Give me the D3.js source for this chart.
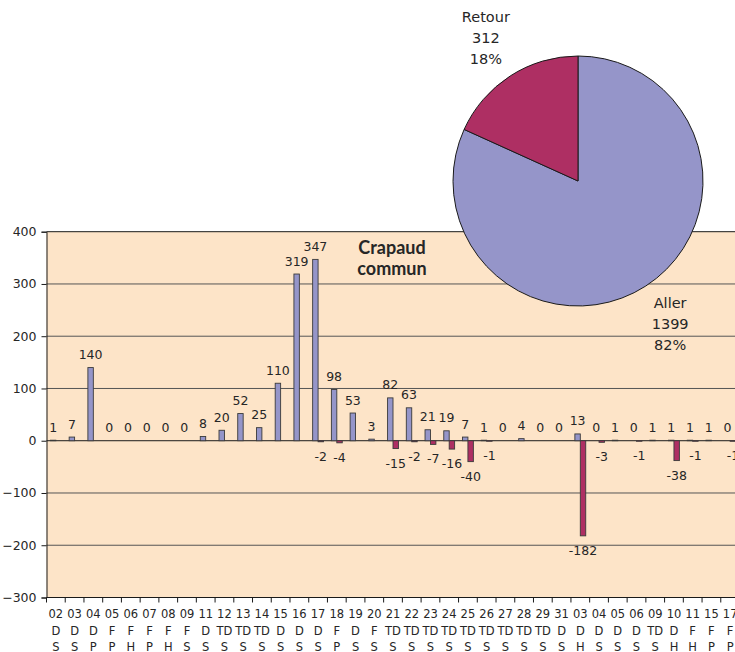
<!DOCTYPE html>
<html>
<head>
<meta charset="utf-8">
<script src="https://cdn.jsdelivr.net/npm/d3@7/dist/d3.min.js"></script>
<style>
  html, body { margin: 0; padding: 0; background: #fff; }
  svg { display: block; }
  text { font-family: "DejaVu Sans", Verdana, sans-serif; fill: #262626; }
</style>
</head>
<body>
<svg id="chart" width="735" height="652"></svg>
<script>
// Day of month for each counting night
const days   = ["02","03","04","05","06","07","08","09","11","12","13","14","15","16","17","18","19",
                "20","21","22","23","24","25","26","27","28","29","31","03","04","05","06","09","10","11","15","17"];
// Weather code (second label row)
const weather = ["D","D","D","F","F","F","F","F","D","TD","TD","TD","D","D","D","F","D",
                 "F","TD","TD","TD","TD","TD","TD","TD","TD","TD","D","D","D","D","D","TD","D","F","F","F"];
// Ground state code (third label row)
const ground  = ["S","S","P","P","H","P","H","S","S","S","S","S","S","S","S","P","S",
                 "S","S","S","S","S","S","S","S","S","S","S","H","S","S","S","S","H","H","P","P"];
// Toads counted going to the pond (Aller) and coming back (Retour)
const aller   = [1,7,140,0,0,0,0,0,8,20,52,25,110,319,347,98,53,
                 3,82,63,21,19,7,1,0,4,0,0,13,0,1,0,1,1,1,1,0];
const retour  = [null,null,null,null,null,null,null,null,null,null,null,null,null,null,-2,-4,null,
                 null,-15,-2,-7,-16,-40,-1,null,null,null,null,-182,-3,null,-1,null,-38,-1,null,-1];
// Totals shown in the pie
const pieNames  = ["Aller","Retour"];
const pieTotals = [1399, 312];
const yTicks = [400,300,200,100,0,-100,-200,-300];
const chartTitle = ["Crapaud","commun"];

const colAller = "#9595c9", colRetour = "#ae2f63", colPlot = "#fde4c8";

const svg = d3.select("#chart");

// ---- bar chart ----
const plotLeft = 46.5, plotTop = 231.7, plotBottom = 597.5;
const step = 18.73;
const plotRight = plotLeft + step * days.length;

const x = d3.scaleBand().domain(d3.range(days.length)).range([plotLeft, plotRight])
  .paddingInner(0.42).paddingOuter(0.21);
const xs = d3.scaleBand().domain(["aller","retour"]).range([0, x.bandwidth()]);
const y = d3.scaleLinear().domain([-300, 400]).range([plotBottom, plotTop]);

svg.append("rect").attr("x", plotLeft).attr("y", plotTop)
  .attr("width", plotRight - plotLeft).attr("height", plotBottom - plotTop).attr("fill", colPlot);

// horizontal gridlines
svg.append("g").selectAll("line").data(yTicks.filter(d => d > -300)).join("line")
  .attr("x1", plotLeft).attr("x2", plotRight)
  .attr("y1", d => y(d)).attr("y2", d => y(d))
  .attr("stroke", d => d === 0 || d === 400 ? "#1a1a1a" : "#555").attr("stroke-width", 1);

// y axis
const yAxis = svg.append("g").attr("transform", `translate(${plotLeft},0)`)
  .call(d3.axisLeft(y).tickValues(yTicks).tickSize(5).tickPadding(5));
yAxis.select(".domain").attr("stroke", "#1a1a1a");
yAxis.selectAll(".tick line").attr("stroke", "#1a1a1a");
yAxis.selectAll("text").style("font-size", "12.5px").attr("fill", "#262626")
  .style("font-family", "DejaVu Sans, sans-serif");

// x axis at the bottom, ticks between categories
const xAxisG = svg.append("g");
xAxisG.append("line").attr("x1", plotLeft).attr("x2", plotRight).attr("y1", plotBottom).attr("y2", plotBottom)
  .attr("stroke", "#1a1a1a");
xAxisG.selectAll("line.tk").data(d3.range(days.length + 1)).join("line").attr("class", "tk")
  .attr("x1", i => plotLeft + i * x.step()).attr("x2", i => plotLeft + i * x.step())
  .attr("y1", plotBottom).attr("y2", plotBottom + 5).attr("stroke", "#1a1a1a");
const rows = [days, weather, ground];
rows.forEach((row, r) => {
  xAxisG.selectAll(`text.r${r}`).data(row).join("text").attr("class", `r${r}`)
    .attr("x", (d, i) => x(i) + x.bandwidth() / 2)
    .attr("y", 618 + r * 16.7)
    .attr("text-anchor", "middle").style("font-size", "11.5px").text(d => d);
});

// bars
const barG = svg.append("g").attr("stroke", "#3a3a3a").attr("stroke-width", 0.9);
barG.selectAll("rect.aller").data(aller).join("rect").attr("class", "aller")
  .attr("x", (d, i) => x(i) + xs("aller"))
  .attr("width", xs.bandwidth())
  .attr("y", d => y(Math.max(d, 0)))
  .attr("height", d => Math.abs(y(d) - y(0)))
  .attr("fill", colAller);
const retourPts = retour.map((v, i) => ({v, i})).filter(d => d.v !== null);
barG.selectAll("rect.retour").data(retourPts).join("rect").attr("class", "retour")
  .attr("x", d => x(d.i) + xs("retour"))
  .attr("width", xs.bandwidth())
  .attr("y", y(0))
  .attr("height", d => Math.abs(y(d.v) - y(0)))
  .attr("fill", colRetour);

// value labels
const lblG = svg.append("g").style("font-size", "12.5px").attr("text-anchor", "middle");
lblG.selectAll("text.la").data(aller).join("text").attr("class", "la")
  .attr("x", (d, i) => x(i) + xs("aller") + xs.bandwidth() / 2)
  .attr("y", d => y(Math.max(d, 0)) - 8.5)
  .text(d => d);
lblG.selectAll("text.lr").data(retourPts).join("text").attr("class", "lr")
  .attr("x", d => x(d.i) + xs("retour") + xs.bandwidth() / 2)
  .attr("y", d => y(d.v) + 19)
  .text(d => d.v);

// title
svg.append("g").selectAll("text").data(chartTitle).join("text")
  .attr("x", 392).attr("y", (d, i) => 253.5 + i * 21)
  .attr("text-anchor", "middle")
  .style("font-family", "Lato, 'DejaVu Sans', sans-serif")
  .style("font-size", "18px").style("font-weight", "bold").text(d => d);

// ---- pie ----
const cx = 578, cy = 181, r = 125;
const total = d3.sum(pieTotals);
const pie = d3.pie().sort(null).value(d => d.v);
const slices = pie(pieNames.map((n, i) => ({n, v: pieTotals[i]})));
const arc = d3.arc().innerRadius(0).outerRadius(r);
const labelArc = d3.arc().innerRadius(170).outerRadius(170);
const pieG = svg.append("g").attr("transform", `translate(${cx},${cy})`);
pieG.selectAll("path").data(slices).join("path")
  .attr("d", arc)
  .attr("fill", (d, i) => i === 0 ? colAller : colRetour)
  .attr("stroke", "#1a1a1a").attr("stroke-width", 1);
slices.forEach(s => {
  const [lx, ly] = labelArc.centroid(s);
  const lines = [s.data.n, String(s.data.v), Math.round(s.data.v / total * 100) + "%"];
  pieG.append("g").selectAll("text").data(lines).join("text")
    .attr("x", lx).attr("y", (d, i) => ly - 16 + i * 21)
    .attr("text-anchor", "middle").style("font-size", "14.5px").text(d => d);
});
</script>
</body>
</html>
